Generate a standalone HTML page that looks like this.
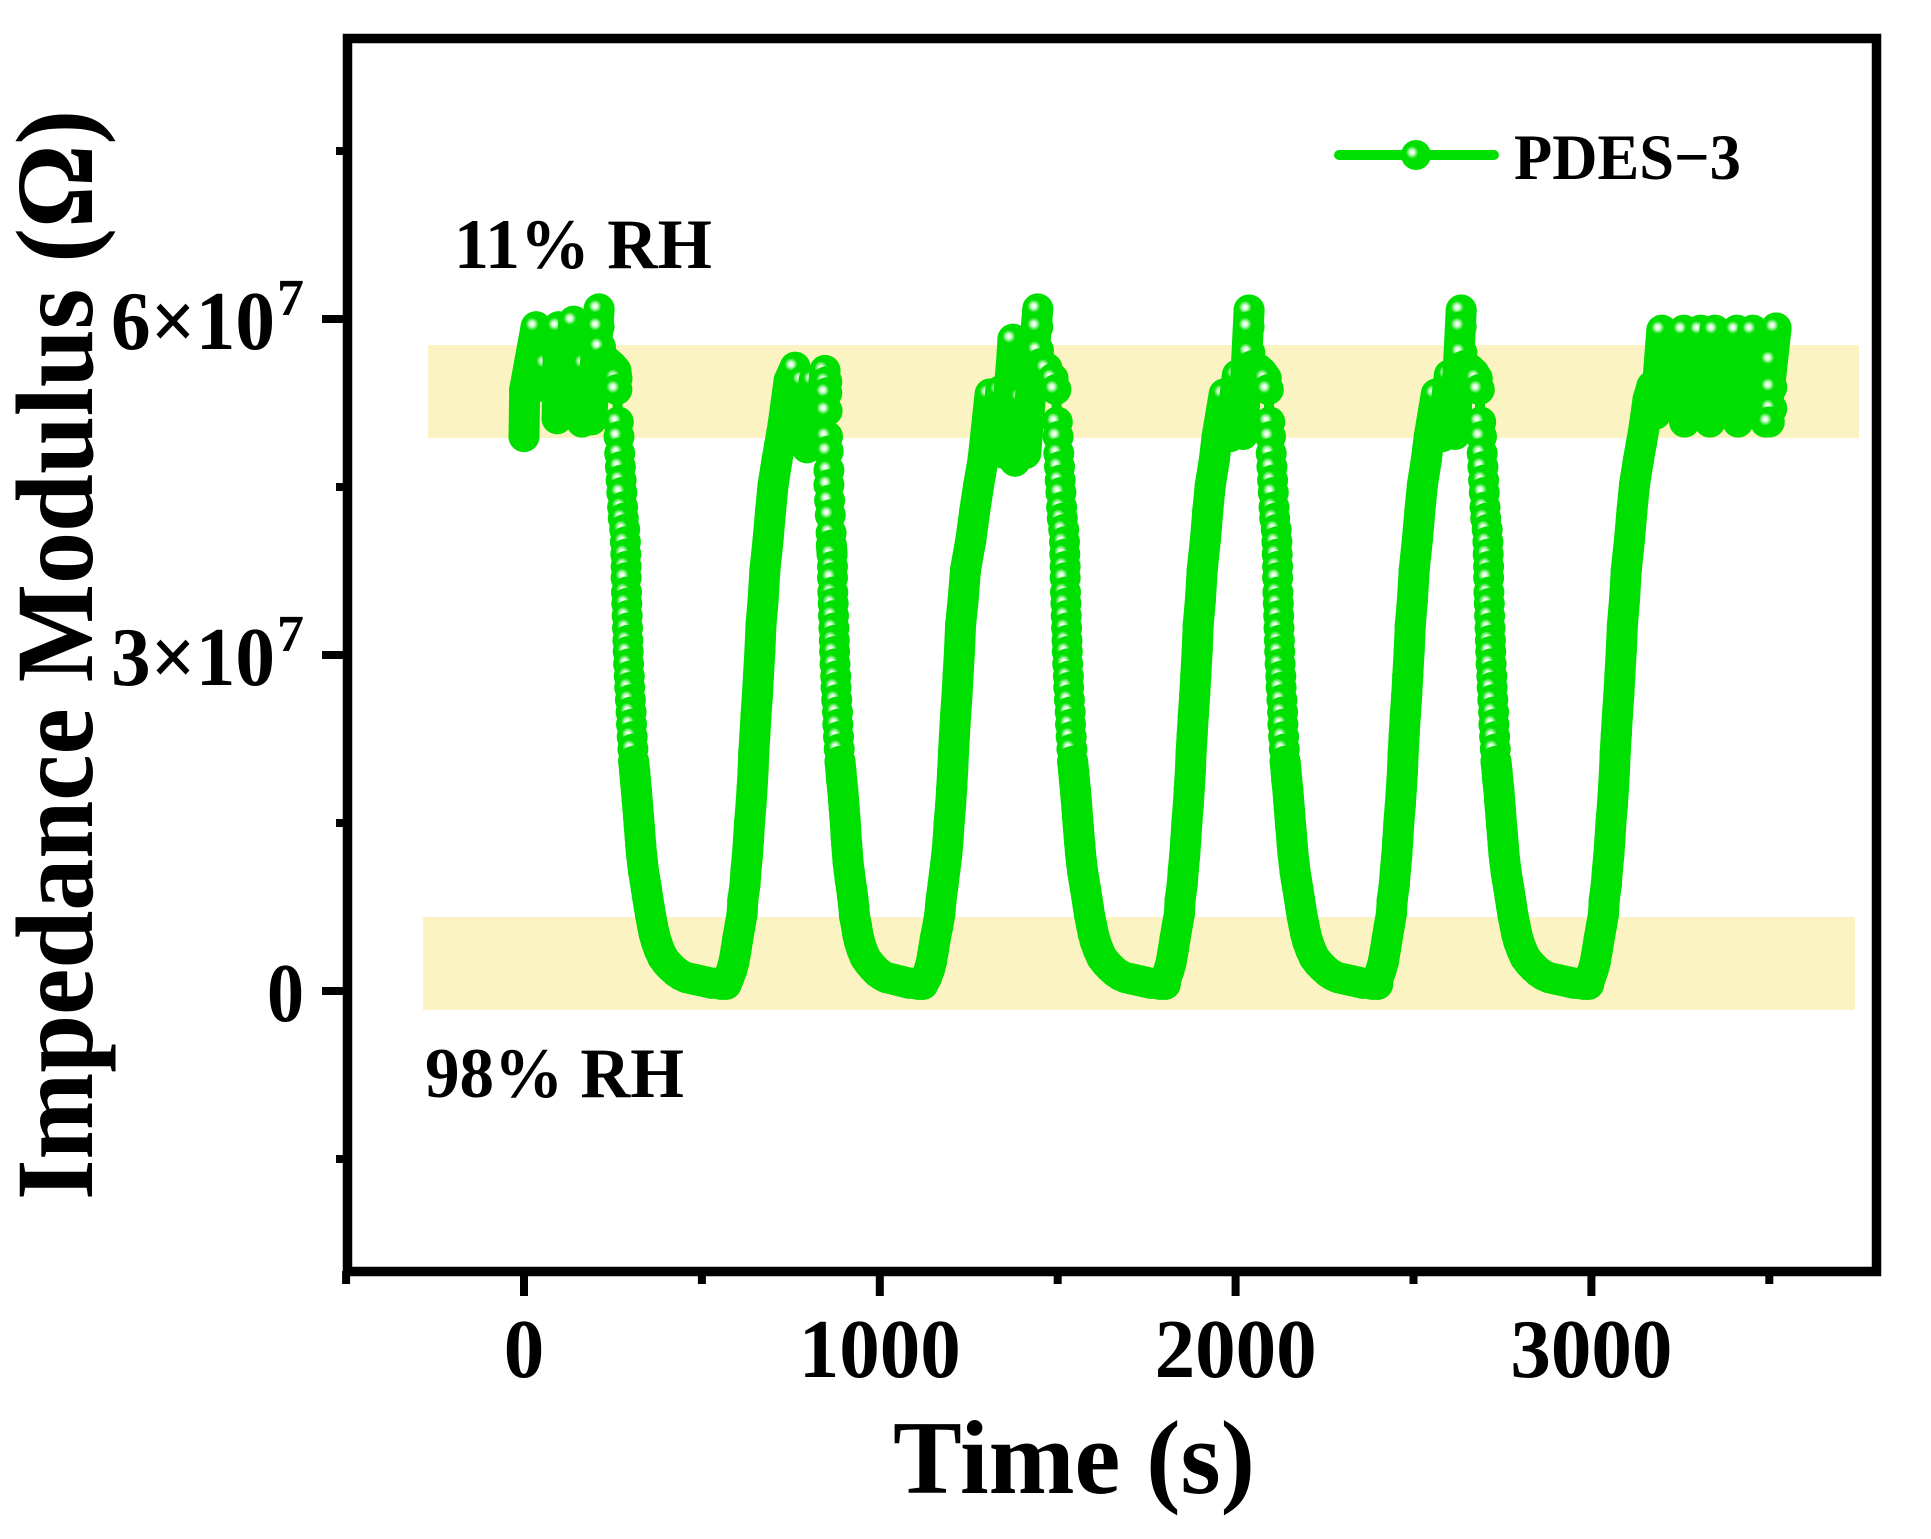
<!DOCTYPE html>
<html lang="en">
<head>
<meta charset="utf-8">
<title>PDES-3 Impedance Modulus vs Time</title>
<style>
html,body{margin:0;padding:0;background:#fff;}
svg{display:block;}
text{font-family:"Liberation Serif",serif;font-weight:bold;fill:#000;}
</style>
</head>
<body>
<svg id="chart" xmlns="http://www.w3.org/2000/svg" width="1931" height="1539" viewBox="0 0 1931 1539">
<defs>
<radialGradient id="bead" cx="0.37" cy="0.41" r="0.55" fx="0.37" fy="0.41">
<stop offset="0" stop-color="#ffffff"/>
<stop offset="0.14" stop-color="#d8fbd8"/>
<stop offset="0.38" stop-color="#00e000"/>
<stop offset="1" stop-color="#00e000"/>
</radialGradient>
</defs>
<rect x="0" y="0" width="1931" height="1539" fill="#ffffff"/>
<rect x="428" y="345" width="1431" height="93" fill="#fbf3c1"/>
<rect x="423" y="917" width="1432" height="93" fill="#fbf3c1"/>
<g id="series"></g>
<g id="axes"></g>
<rect x="347.5" y="38.5" width="1529" height="1233" fill="none" stroke="#000" stroke-width="9.5"/>
<text transform="translate(92,1200) rotate(-90)" font-size="110" textLength="1090" lengthAdjust="spacingAndGlyphs">Impedance Modulus (Ω)</text>
<text x="893" y="1493" font-size="105" textLength="362" lengthAdjust="spacingAndGlyphs">Time (s)</text>
<text x="454" y="268" font-size="71" textLength="258" lengthAdjust="spacingAndGlyphs">11% RH</text>
<text x="425" y="1097" font-size="71" textLength="259" lengthAdjust="spacingAndGlyphs">98% RH</text>
<g>
<line x1="1339" y1="155" x2="1494" y2="155" stroke="#00e000" stroke-width="10" stroke-linecap="round"/>
<circle cx="1416" cy="155" r="15" fill="url(#bead)"/>
<text x="1514" y="179" font-size="65" textLength="227" lengthAdjust="spacingAndGlyphs">PDES−3</text>
</g>
</svg>
<script>
// Axis tick values
const xMajorTicks = [0, 1000, 2000, 3000];
const xMinorTicks = [-500, 500, 1500, 2500, 3500];
const xTickLabels = ["0", "1000", "2000", "3000"];
const yMajorTicks = [0, 3, 6];
const yMinorTicks = [-1.5, 1.5, 4.5, 7.5];
const yTickMantissa = ["0", "3×10", "6×10"];
const yTickExponent = ["", "7", "7"];

// Series: time in seconds, impedance modulus in units of 1e7 ohm
const timeSeconds = [
0,2,34,50,64,93,97,125,140,163,172,190,211,211,215,233,247,258,261,
261,265,267,269,271,273,275,277,279,283,285,
286,287,287,288,289,290,291,292,293,294,296,297,299,301,302,304,306,308,311,313,316,318,320,322,324,326,328,330,333,336,340,344,348,352,356,361,366,372,380,390,402,414,428,442,456,470,484,498,512,526,540,554,568,
576,584,590,596,601,607,613,615,621,624,628,631,634,638,641,644,646,649,652,656,659,663,666,672,677,686,693,700,711,719,728,
745,762,775,785,795,815,830,846,
851,851,852,853,855,857,857,859,861,863,864,
866,867,867,868,869,870,871,872,873,874,876,877,879,881,882,884,886,888,891,893,896,898,900,902,904,905,907,909,911,914,917,921,924,927,929,934,938,943,950,959,970,981,993,1006,1018,1031,1044,1056,1069,1082,1095,1108,1121,
1131,1139,1145,1151,1156,1163,1169,1172,1178,1183,1188,1192,1195,1199,1202,1205,1207,1210,1213,1217,1220,1224,1227,1234,1241,1256,1267,1278,1290,
1310,1325,1340,1350,1372,1374,1380,1400,1410,1444,1444,1446,1452,1470,1487,
1495,1499,1501,1503,1505,1507,1509,1511,1513,1517,1519,
1520,1521,1521,1522,1523,1524,1525,1526,1527,1528,1530,1531,1533,1535,1536,1538,1540,1542,1545,1547,1550,1552,1554,1556,1558,1560,1562,1564,1567,1570,1574,1578,1582,1586,1590,1595,1600,1606,1614,1624,1636,1648,1662,1676,1690,1704,1718,1732,1746,1760,1774,1788,1802,
1805,1813,1819,1825,1830,1836,1842,1844,1850,1853,1857,1860,1863,1867,1870,1873,1875,1878,1881,1885,1888,1892,1895,1901,1906,1915,1922,1929,1940,
1948,1968,1985,2005,2021,2038,2038,2040,2046,2065,2075,2086,
2092,2096,2098,2100,2102,2104,2106,2108,2110,2114,2116,
2117,2118,2118,2119,2120,2121,2122,2123,2124,2125,2127,2128,2130,2132,2133,2135,2137,2139,2142,2144,2147,2149,2151,2153,2155,2157,2159,2161,2164,2167,2171,2175,2179,2183,2187,2192,2197,2203,2211,2221,2233,2245,2259,2273,2287,2301,2315,2329,2343,2357,2371,2385,2399,
2401,2409,2415,2421,2426,2432,2438,2440,2446,2449,2453,2456,2459,2463,2466,2469,2471,2474,2477,2481,2484,2488,2491,2497,2502,2511,2518,2525,2536,
2544,2564,2581,2601,2617,2634,2634,2636,2642,2659,2669,2679,
2685,2689,2691,2693,2695,2697,2699,2701,2703,2707,2709,
2710,2711,2711,2712,2713,2714,2715,2716,2717,2718,2720,2721,2723,2725,2726,2728,2730,2732,2735,2737,2740,2742,2744,2746,2748,2750,2752,2754,2757,2760,2764,2768,2772,2776,2780,2785,2790,2796,2804,2814,2826,2838,2852,2866,2880,2894,2908,2922,2936,2950,2964,2978,2992,
2997,3005,3011,3017,3022,3028,3034,3036,3042,3045,3049,3052,3055,3059,3062,3065,3067,3070,3073,3077,3080,3084,3087,3093,3098,3107,3114,3121,3132,3140,3149,
3159,3170,3180,3198,3262,3260,3285,3307,3333,3347,3380,3409,3412,3454,3490,3519,3507,3507,3507,3500
];
const impedanceE7 = [
4.95,5.37,5.93,5.4,5.6,5.11,5.93,5.3,5.98,5.08,5.6,5.1,6.09,5.93,5.75,5.62,5.58,5.54,5.47,
5.37,5.08,4.95,4.80,4.68,4.56,4.45,4.32,4.22,4.12,4.01,
3.90,3.79,3.69,3.56,3.46,3.35,3.24,3.13,3.03,2.92,2.81,2.71,2.60,2.49,2.38,2.27,2.16,2.05,1.96,1.88,1.79,1.71,1.63,1.55,1.47,1.39,1.31,1.23,1.15,1.07,.99,.91,.83,.75,.67,.59,.51,.44,.37,.30,.25,.21,.17,.14,.12,.11,.10,.09,.08,.07,.07,.06,.06,
.12,.19,.26,.37,.47,.58,.69,.81,.95,1.08,1.21,1.35,1.51,1.66,1.81,1.97,2.13,2.29,2.46,2.64,2.82,3.04,3.27,3.49,3.76,4.03,4.29,4.52,4.74,4.88,5.05,
5.45,5.57,5.0,5.45,4.85,5.45,5.0,5.54,
5.44,5.34,5.18,4.95,4.82,4.65,4.52,4.38,4.25,4.09,3.98,
3.90,3.79,3.69,3.56,3.46,3.35,3.24,3.13,3.03,2.92,2.81,2.71,2.60,2.49,2.38,2.27,2.16,2.05,1.96,1.88,1.79,1.71,1.63,1.55,1.47,1.39,1.31,1.23,1.15,1.07,.99,.91,.83,.75,.67,.59,.51,.44,.37,.30,.25,.21,.17,.14,.12,.11,.10,.09,.08,.07,.07,.06,.06,
.12,.19,.26,.37,.47,.58,.69,.81,.95,1.08,1.21,1.35,1.51,1.66,1.81,1.97,2.13,2.29,2.46,2.64,2.82,3.04,3.27,3.49,3.76,4.03,4.29,4.52,4.74,
5.33,4.85,5.36,4.8,5.7,5.82,4.73,5.3,4.8,6.09,5.93,5.72,5.6,5.56,5.47,
5.37,5.08,4.95,4.80,4.68,4.56,4.45,4.32,4.22,4.12,4.01,
3.90,3.79,3.69,3.56,3.46,3.35,3.24,3.13,3.03,2.92,2.81,2.71,2.60,2.49,2.38,2.27,2.16,2.05,1.96,1.88,1.79,1.71,1.63,1.55,1.47,1.39,1.31,1.23,1.15,1.07,.99,.91,.83,.75,.67,.59,.51,.44,.37,.30,.25,.21,.17,.14,.12,.11,.10,.09,.08,.07,.07,.06,.06,
.12,.19,.26,.37,.47,.58,.69,.81,.95,1.08,1.21,1.35,1.51,1.66,1.81,1.97,2.13,2.29,2.46,2.64,2.82,3.04,3.27,3.49,3.76,4.03,4.29,4.52,4.74,
4.95,5.33,4.95,5.5,4.97,6.08,5.93,5.7,5.58,5.55,5.52,5.47,
5.37,5.08,4.95,4.80,4.68,4.56,4.45,4.32,4.22,4.12,4.01,
3.90,3.79,3.69,3.56,3.46,3.35,3.24,3.13,3.03,2.92,2.81,2.71,2.60,2.49,2.38,2.27,2.16,2.05,1.96,1.88,1.79,1.71,1.63,1.55,1.47,1.39,1.31,1.23,1.15,1.07,.99,.91,.83,.75,.67,.59,.51,.44,.37,.30,.25,.21,.17,.14,.12,.11,.10,.09,.08,.07,.07,.06,.06,
.12,.19,.26,.37,.47,.58,.69,.81,.95,1.08,1.21,1.35,1.51,1.66,1.81,1.97,2.13,2.29,2.46,2.64,2.82,3.04,3.27,3.49,3.76,4.03,4.29,4.52,4.74,
4.95,5.33,4.95,5.5,4.97,6.08,5.93,5.7,5.58,5.55,5.52,5.47,
5.37,5.08,4.95,4.80,4.68,4.56,4.45,4.32,4.22,4.12,4.01,
3.90,3.79,3.69,3.56,3.46,3.35,3.24,3.13,3.03,2.92,2.81,2.71,2.60,2.49,2.38,2.27,2.16,2.05,1.96,1.88,1.79,1.71,1.63,1.55,1.47,1.39,1.31,1.23,1.15,1.07,.99,.91,.83,.75,.67,.59,.51,.44,.37,.30,.25,.21,.17,.14,.12,.11,.10,.09,.08,.07,.07,.06,.06,
.12,.19,.26,.37,.47,.58,.69,.81,.95,1.08,1.21,1.35,1.51,1.66,1.81,1.97,2.13,2.29,2.46,2.64,2.82,3.04,3.27,3.49,3.76,4.03,4.29,4.52,4.74,4.88,5.05,
5.28,5.4,5.15,5.90,5.08,5.90,5.3,5.90,5.08,5.90,5.3,5.90,5.08,5.90,5.08,5.92,5.63,5.39,5.20,5.08
];

const SVG_NS = "http://www.w3.org/2000/svg";
function xScale(t) { return 524 + 0.3558 * t; }
function yScale(v) { return 991 - 112 * v; }
function make(tag, attrs, parent) {
  const el = document.createElementNS(SVG_NS, tag);
  for (const k in attrs) el.setAttribute(k, attrs[k]);
  parent.appendChild(el);
  return el;
}

const seriesGroup = document.getElementById("series");
const axesGroup = document.getElementById("axes");

const pointCount = Math.min(timeSeconds.length, impedanceE7.length);
let linePoints = "";
for (let i = 0; i < pointCount; i++) {
  linePoints += xScale(timeSeconds[i]).toFixed(1) + "," + yScale(impedanceE7[i]).toFixed(1) + " ";
}
const seriesLine = make("polyline", {points: linePoints, fill: "none", stroke: "#00e000", "stroke-width": 10, "stroke-linejoin": "round"}, seriesGroup);


for (let i = 0; i < pointCount; i++) {
  const px = xScale(timeSeconds[i]);
  const py = yScale(impedanceE7[i]);
  const dot = make("circle", {cx: px.toFixed(1), cy: py.toFixed(1), r: 15.5, fill: "url(#bead)"}, seriesGroup);
  
  
  // Rising runs and tightly spaced points overlap into a solid band in the reference.
  if (i + 1 < pointCount) {
    const nx = xScale(timeSeconds[i + 1]);
    const ny = yScale(impedanceE7[i + 1]);
    if (ny < py || Math.hypot(nx - px, ny - py) < 10.5) {
      const solid = make("line", {x1: px.toFixed(1), y1: py.toFixed(1), x2: nx.toFixed(1), y2: ny.toFixed(1), stroke: "#00e000", "stroke-width": 31, "stroke-linecap": "round"}, seriesGroup);
      
      
    }
  }
}

xMajorTicks.forEach(function (tick, i) {
  const px = xScale(tick);
  const mark = make("rect", {x: px - 4, y: 1271, width: 8, height: 25, fill: "#000"}, axesGroup);
  
  
  const label = make("text", {x: px, y: 1377, "font-size": 84, "text-anchor": "middle", textLength: xTickLabels[i].length * 40.5, lengthAdjust: "spacingAndGlyphs"}, axesGroup);
  
  
  label.textContent = xTickLabels[i];
});
xMinorTicks.forEach(function (tick) {
  const mark = make("rect", {x: xScale(tick) - 4, y: 1271, width: 8, height: 13, fill: "#000"}, axesGroup);
  
  
});
yMajorTicks.forEach(function (tick, i) {
  const py = yScale(tick);
  const mark = make("rect", {x: 322, y: py - 4, width: 25, height: 8, fill: "#000"}, axesGroup);
  
  
  const hasExponent = yTickExponent[i] !== "";
  const label = make("text", {x: hasExponent ? 111 : 267, y: py + 30, "font-size": 84, textLength: hasExponent ? 164 : 37, lengthAdjust: "spacingAndGlyphs"}, axesGroup);
  
  
  label.textContent = yTickMantissa[i];
  if (hasExponent) {
    const exponent = make("text", {x: 277, y: py - 4, "font-size": 52, textLength: 27, lengthAdjust: "spacingAndGlyphs"}, axesGroup);
    
    
    exponent.textContent = yTickExponent[i];
  }
});
yMinorTicks.forEach(function (tick) {
  const mark = make("rect", {x: 336, y: yScale(tick) - 4, width: 12, height: 8, fill: "#000"}, axesGroup);
  
  
});
</script>
</body>
</html>
